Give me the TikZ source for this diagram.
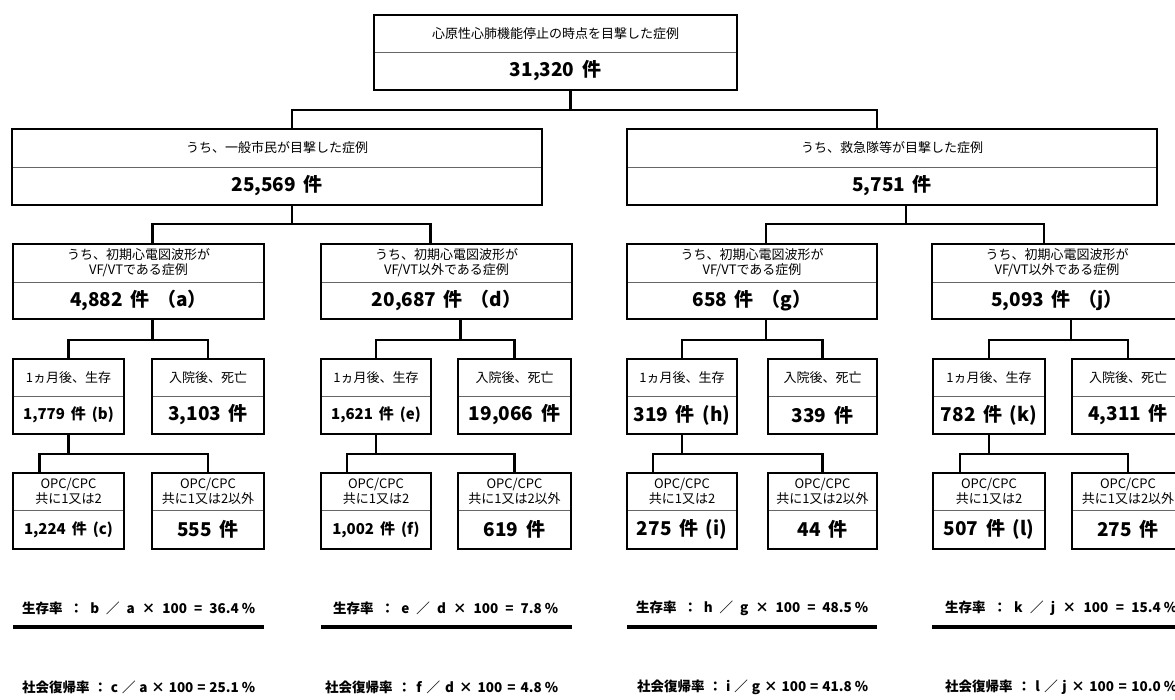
\documentclass[tikz,border=0pt]{standalone}
\usepackage{fontspec}
\setmainfont{Noto Sans CJK JP}
\usetikzlibrary{positioning}

\tikzset{
  frame/.style={inner sep=0pt, outer sep=0pt, anchor=north west},
  border/.style={line width=2.8pt},
  divider/.style={draw=black!60, line width=0.9pt},
  conn/.style={line width=2.8pt},
  sep/.style={line width=3.3pt},
  lbl/.style={align=center, inner sep=0pt, font=\fontsize{13}{15}\selectfont},
  wide/.style={execute at begin node={\spaceskip=0.4em\relax}},
  num/.style={inner sep=0pt, wide, font=\fontsize{19}{19}\selectfont\bfseries},
  numsm/.style={inner sep=0pt, wide, font=\fontsize{15}{15}\selectfont\bfseries},
  rate/.style={inner sep=0pt, anchor=west, font=\fontsize{13.5}{13.5}\selectfont\bfseries},
}

% two-part box: [number style]{name}{x,y}{width}{height}{divider}{label}{number}
\newcommand{\casebox}[8][num]{%
  \node[frame, minimum width=#4, minimum height=#5] (#2) at (#3) {};
  \draw[divider] ([yshift=-#6]#2.north west) -- ([yshift=-#6]#2.north east);
  \draw[border] (#2.north west) rectangle (#2.south east);
  \node[lbl] (#2-lbl) at ([yshift=-#6/2]#2.north) {#7};
  \node[#1] (#2-num) at ([yshift={(#5-#6)/2}]#2.south) {#8};
}

\begin{document}
\begin{tikzpicture}[x=1pt, y=-1pt]
\useasboundingbox (0,0) rectangle (1175,699);

% top
\casebox{tot}{374,15}{363}{75}{37}{心原性心肺機能停止の時点を目撃した症例}{31,320 件}

% who saw it
\casebox{civ}{12,129}{530}{76}{38}{うち、一般市民が目撃した症例}{25,569 件}
\casebox{emt}{627,129}{530}{76}{38}{うち、救急隊等が目撃した症例}{5,751 件}

% first ECG
\casebox{vfa}{13,244}{251}{75}{38}{うち、初期心電図波形が\\VF/VTである症例}{4,882 件 （a）}
\casebox{nvd}{321,244}{251}{75}{38}{うち、初期心電図波形が\\VF/VT以外である症例}{20,687 件 （d）}
\casebox{vfg}{627,244}{250}{75}{38}{うち、初期心電図波形が\\VF/VTである症例}{658 件 （g）}
\casebox{nvj}{932,244}{250}{75}{38}{うち、初期心電図波形が\\VF/VT以外である症例}{5,093 件 （j）}

% one month
\casebox[numsm]{svb}{13,359}{111}{75}{37}{1ヵ月後、生存}{1,779 件 (b)}
\casebox{dta}{152,359}{112}{75}{37}{入院後、死亡}{3,103 件}
\casebox[numsm]{sve}{321,359}{110}{75}{37}{1ヵ月後、生存}{1,621 件 (e)}
\casebox{dtd}{458,359}{113}{75}{37}{入院後、死亡}{19,066 件}
\casebox{svh}{627,359}{110}{75}{37}{1ヵ月後、生存}{319 件 (h)}
\casebox{dtg}{768,359}{109}{75}{37}{入院後、死亡}{339 件}
\casebox{svk}{933,359}{112}{75}{37}{1ヵ月後、生存}{782 件 (k)}
\casebox{dtj}{1072,359}{112}{75}{37}{入院後、死亡}{4,311 件}

% OPC/CPC
\casebox[numsm]{goc}{13,473}{111}{76}{37}{OPC/CPC\\共に1又は2}{1,224 件 (c)}
\casebox{poa}{152,473}{112}{76}{37}{OPC/CPC\\共に1又は2以外}{555 件}
\casebox[numsm]{gof}{321,473}{110}{76}{37}{OPC/CPC\\共に1又は2}{1,002 件 (f)}
\casebox{pod}{458,473}{113}{76}{37}{OPC/CPC\\共に1又は2以外}{619 件}
\casebox{goi}{627,473}{110}{76}{37}{OPC/CPC\\共に1又は2}{275 件 (i)}
\casebox{pog}{768,473}{109}{76}{37}{OPC/CPC\\共に1又は2以外}{44 件}
\casebox{gol}{933,473}{112}{76}{37}{OPC/CPC\\共に1又は2}{507 件 (l)}
\casebox{poj}{1072,473}{112}{76}{37}{OPC/CPC\\共に1又は2以外}{275 件}

% connectors
\draw[conn] ([xshift=15pt]tot.south) -- ++(0,20) coordinate (t1);
\draw[conn] ([xshift=15pt]civ.north) |- (t1) -| ([xshift=-15pt]emt.north);
\draw[conn] ([xshift=15pt]civ.south) -- ++(0,19) coordinate (c1);
\draw[conn] ([xshift=14pt]vfa.north) |- (c1) -| ([xshift=-16pt]nvd.north);
\draw[conn] ([xshift=14pt]emt.south) -- ++(0,19) coordinate (e1);
\draw[conn] ([xshift=14pt]vfg.north) |- (e1) -| ([xshift=-13pt]nvj.north);

\draw[conn] ([xshift=14pt]vfa.south) -- ++(0,21) coordinate (a1);
\draw[conn] (svb.north) |- (a1) -| (dta.north);
\draw[conn] ([xshift=14pt]nvd.south) -- ++(0,21) coordinate (d1);
\draw[conn] (sve.north) |- (d1) -| (dtd.north);
\draw[conn] ([xshift=14pt]vfg.south) -- ++(0,21) coordinate (g1);
\draw[conn] (svh.north) |- (g1) -| (dtg.north);
\draw[conn] ([xshift=14pt]nvj.south) -- ++(0,21) coordinate (j1);
\draw[conn] (svk.north) |- (j1) -| (dtj.north);

\draw[conn] (svb.south) -- ++(0,20) coordinate (b1);
\draw[conn] ([xshift=-29pt]goc.north) |- (b1) -| (poa.north);
\draw[conn] (sve.south) -- ++(0,20) coordinate (e2);
\draw[conn] ([xshift=-29pt]gof.north) |- (e2) -| (pod.north);
\draw[conn] (svh.south) -- ++(0,20) coordinate (h1);
\draw[conn] ([xshift=-29pt]goi.north) |- (h1) -| (pog.north);
\draw[conn] (svk.south) -- ++(0,20) coordinate (k1);
\draw[conn] ([xshift=-29pt]gol.north) |- (k1) -| (poj.north);

% rates
\node[rate] (rsa) at (22,608) {\makebox[233pt][l]{生存率\hfill：\hfill b\hfill ／\hfill a\hfill ×\hfill 100\hfill =\hfill 36.4 \%}};
\node[rate] (rsd) at (333,608) {\makebox[225pt][l]{生存率\hfill：\hfill e\hfill ／\hfill d\hfill ×\hfill 100\hfill =\hfill 7.8 \%}};
\node[rate] (rsg) at (636,608) {\makebox[232pt][l]{生存率\hfill：\hfill h\hfill ／\hfill g\hfill ×\hfill 100\hfill =\hfill 48.5 \%}};
\node[rate] (rsj) at (945,608) {\makebox[232pt][l]{生存率\hfill：\hfill k\hfill ／\hfill j\hfill ×\hfill 100\hfill =\hfill 15.4 \%}};
\draw[sep] (13,627) -- (264,627);
\draw[sep] (321,627) -- (572,627);
\draw[sep] (627,627) -- (877,627);
\draw[sep] (932,627) -- (1182,627);
\node[rate] (rra) at (22,687) {\makebox[233pt][l]{社会復帰率\hfill：\hfill c\hfill ／\hfill a\hfill ×\hfill 100\hfill =\hfill 25.1 \%}};
\node[rate] (rrd) at (325,687) {\makebox[233pt][l]{社会復帰率\hfill：\hfill f\hfill ／\hfill d\hfill ×\hfill 100\hfill =\hfill 4.8 \%}};
\node[rate] (rrg) at (637,687) {\makebox[231pt][l]{社会復帰率\hfill：\hfill i\hfill ／\hfill g\hfill ×\hfill 100\hfill =\hfill 41.8 \%}};
\node[rate] (rrj) at (945,687) {\makebox[232pt][l]{社会復帰率\hfill：\hfill l\hfill ／\hfill j\hfill ×\hfill 100\hfill =\hfill 10.0 \%}};

\end{tikzpicture}
\end{document}
